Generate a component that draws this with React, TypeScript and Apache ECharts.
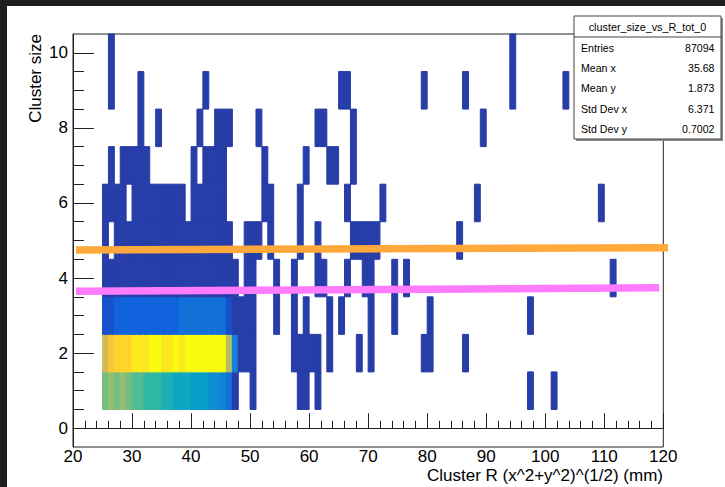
import React, { useEffect, useRef } from 'react';
import * as echarts from 'echarts';

// ---------- data ----------
// x bins are 1 mm wide (lower edges listed), y bins are centred on integer cluster sizes
const denseBins = [25, 26, 27, 28, 29, 30, 31, 32, 33, 34, 35, 36, 37, 38, 39, 40, 41, 42, 43, 44, 45, 46, 47];
const size1Counts = [1150, 1240, 1120, 1230, 1110, 1060, 1020, 980, 950, 920, 870, 840, 780, 750, 720, 680, 650, 620, 570, 540, 460, 330, 40];
const size2Counts = [1460, 1650, 1740, 1760, 1730, 1830, 1850, 1870, 1930, 1960, 1880, 1890, 1950, 1860, 1990, 1970, 1980, 2000, 1960, 1950, 1940, 1350, 470];
const size3Counts = [180, 190, 230, 240, 250, 250, 260, 260, 270, 270, 260, 270, 280, 310, 320, 320, 330, 320, 310, 310, 300, 170, 30];

// sparse (low-count) cells: bin lower edges per cluster size
const size1Extra = [50, 58, 59, 61, 97, 101];
const size2Extra = [48, 49, 50, 57, 58, 59, 60, 61, 63, 68, 70, 79, 80, 86];
const size3Extra = [48, 49, 50, 54, 57, 59, 63, 65, 70, 74, 80, 97];
const size4Bins = [25, 26, 27, 28, 29, 30, 31, 32, 33, 34, 35, 36, 37, 38, 39, 40, 41, 42, 43, 44, 45, 46, 47, 49, 50, 54, 57, 61, 62, 66, 69, 70, 74, 76, 111];
const size5Bins = [25, 27, 28, 29, 30, 31, 32, 33, 34, 35, 36, 37, 38, 39, 40, 41, 42, 43, 44, 45, 46, 49, 50, 51, 53, 58, 61, 67, 68, 69, 70, 71, 85];
const size6Bins = [25, 26, 27, 28, 30, 31, 32, 33, 34, 35, 36, 37, 38, 40, 41, 42, 43, 44, 45, 52, 53, 58, 66, 72, 88, 109];
const size7Bins = [26, 28, 29, 30, 31, 32, 40, 42, 43, 44, 45, 52, 59, 63, 64, 67];
const size8Bins = [31, 34, 41, 44, 45, 46, 51, 61, 62, 67, 89];
const size9Bins = [26, 31, 42, 65, 66, 79, 86, 94, 103];
const size10Bins = [26, 94];
const size4Count = 30;
const sparseCount = 3;

// overlaid lines (x, y)
const orangeLine = [[20.5, 4.75], [120.8, 4.81]];
const magentaLine = [[20.5, 3.65], [119.3, 3.74]];

// axes
const yMajorTicks = [0, 2, 4, 6, 8, 10];
const yMinorTicks = [0.5, 1, 1.5, 2, 2.5, 3, 3.5, 4, 4.5, 5, 5.5, 6, 6.5, 7, 7.5, 8, 8.5, 9, 9.5, 10];

// stats box
const statsTitle = 'cluster_size_vs_R_tot_0';
const statsLabels = ['Entries', 'Mean x', 'Mean y', 'Std Dev x', 'Std Dev y'];
const statsValues = ['87094', '35.68', '1.873', '6.371', '0.7002'];

// ROOT kBird palette stops
const birdStops = [
  [0.2082, 0.1664, 0.5293], [0.0592, 0.3599, 0.8684], [0.078, 0.5041, 0.8385],
  [0.0232, 0.6419, 0.7914], [0.1802, 0.7178, 0.6425], [0.5301, 0.7492, 0.4662],
  [0.8186, 0.7328, 0.3499], [0.9956, 0.7862, 0.1968], [0.9764, 0.9832, 0.0539],
];

function bird(f: number): string {
  const t = Math.max(0, Math.min(1, f)) * (birdStops.length - 1);
  const i = Math.min(birdStops.length - 2, Math.floor(t));
  const u = t - i;
  const c = birdStops[i].map((v, k) => Math.round((v + (birdStops[i + 1][k] - v) * u) * 255));
  return `rgb(${c[0]},${c[1]},${c[2]})`;
}

const FONT = '"Liberation Sans", Arial, Helvetica, sans-serif';

export default function App() {
  const ref = useRef<HTMLDivElement>(null);
  useEffect(() => {
    if (!ref.current) return;
    const chart = echarts.init(ref.current, undefined, { renderer: 'svg' });

    const cells: number[][] = [];
    denseBins.forEach((b, i) => {
      cells.push([b, 1, size1Counts[i]]);
      cells.push([b, 2, size2Counts[i]]);
      cells.push([b, 3, size3Counts[i]]);
    });
    size1Extra.forEach((b) => cells.push([b, 1, sparseCount]));
    size2Extra.forEach((b) => cells.push([b, 2, sparseCount]));
    size3Extra.forEach((b) => cells.push([b, 3, sparseCount]));
    size4Bins.forEach((b) => cells.push([b, 4, size4Count]));
    size5Bins.forEach((b) => cells.push([b, 5, sparseCount]));
    size6Bins.forEach((b) => cells.push([b, 6, sparseCount]));
    size7Bins.forEach((b) => cells.push([b, 7, sparseCount]));
    size8Bins.forEach((b) => cells.push([b, 8, sparseCount]));
    size9Bins.forEach((b) => cells.push([b, 9, sparseCount]));
    size10Bins.forEach((b) => cells.push([b, 10, sparseCount]));

    const zMax = Math.max(...cells.map((c) => c[2]));
    const nLevels = 20;
    const pieces = [];
    for (let k = 0; k < nLevels; k++) {
      const idx = Math.floor(((k + 0.99) * 255) / nLevels);
      const p: any = { gte: (k * zMax) / nLevels, color: bird(idx / 254) };
      if (k === nLevels - 1) p.lte = zMax;
      else p.lt = ((k + 1) * zMax) / nLevels;
      pieces.push(p);
    }

    const boxX = 574, boxY = 16, boxW = 147, boxH = 123;
    const statsGraphics: any[] = [
      { type: 'rect', shape: { x: boxX + 2, y: boxY + 2, width: boxW, height: boxH }, style: { fill: '#8a8a8a' }, z: 10 },
      { type: 'rect', shape: { x: boxX, y: boxY, width: boxW, height: boxH }, style: { fill: '#fff', stroke: '#444', lineWidth: 1 }, z: 11 },
      { type: 'line', shape: { x1: boxX, y1: 37, x2: boxX + boxW, y2: 37 }, style: { stroke: '#444', lineWidth: 1 }, z: 12 },
      { type: 'text', x: boxX + boxW / 2, y: 26.5, z: 12, style: { text: statsTitle, font: `10.8px ${FONT}`, fill: '#000', textAlign: 'center', textVerticalAlign: 'middle' } },
    ];
    statsLabels.forEach((lab, i) => {
      const yy = 48 + i * 20.2;
      statsGraphics.push({ type: 'text', x: 581, y: yy, z: 12, style: { text: lab, font: `10.6px ${FONT}`, fill: '#000', textAlign: 'left', textVerticalAlign: 'middle' } });
      statsGraphics.push({ type: 'text', x: 714.5, y: yy, z: 12, style: { text: statsValues[i], font: `10.6px ${FONT}`, fill: '#000', textAlign: 'right', textVerticalAlign: 'middle' } });
    });

    chart.setOption({
      animation: false,
      backgroundColor: '#fff',
      grid: { left: 73, top: 34, right: 61.7, bottom: 40, show: true, borderColor: '#222', borderWidth: 1, backgroundColor: 'transparent' },
      xAxis: {
        type: 'value', min: 20, max: 120, interval: 10,
        axisLine: { show: true, lineStyle: { color: '#222', width: 1 } },
        axisTick: { show: true, inside: true, length: 15, lineStyle: { color: '#222' } },
        minorTick: { show: true, splitNumber: 5, length: 7.5, lineStyle: { color: '#222' } },
        splitLine: { show: false },
        axisLabel: { fontSize: 17, color: '#000', fontFamily: FONT, margin: 1 },
      },
      yAxis: [
        {
          type: 'value', min: -0.5, max: 10.5, position: 'left',
          axisLine: { show: true, lineStyle: { color: '#222', width: 1 } },
          axisTick: { show: true, inside: true, length: 21, customValues: yMajorTicks, lineStyle: { color: '#222' } },
          axisLabel: { fontSize: 17, color: '#000', fontFamily: FONT, margin: 5, customValues: yMajorTicks },
          splitLine: { show: false },
        },
        {
          type: 'value', min: -0.5, max: 10.5, position: 'left', offset: 0,
          axisLine: { show: false },
          axisTick: { show: true, inside: true, length: 11, customValues: yMinorTicks, lineStyle: { color: '#222' } },
          axisLabel: { show: false },
          splitLine: { show: false },
        },
      ],
      visualMap: { type: 'piecewise', show: false, dimension: 2, seriesIndex: 0, pieces },
      series: [
        {
          type: 'custom',
          coordinateSystem: 'cartesian2d',
          xAxisIndex: 0, yAxisIndex: 0,
          data: cells,
          encode: { x: 0, y: 1 },
          renderItem: (params: any, api: any) => {
            const x = api.value(0) as number;
            const y = api.value(1) as number;
            const a = api.coord([x, y + 0.5]);
            const b = api.coord([x + 1, y - 0.5]);
            const col = api.visual('color');
            return {
              type: 'rect',
              shape: { x: a[0], y: a[1], width: b[0] - a[0], height: b[1] - a[1] },
              style: { fill: col, stroke: col, lineWidth: 1 },
            };
          },
          z: 2,
        },
        {
          type: 'line', data: orangeLine, xAxisIndex: 0, yAxisIndex: 0, symbol: 'none', clip: false, silent: true,
          lineStyle: { color: '#ffa83c', width: 7.5, cap: 'butt' }, z: 4,
        },
        {
          type: 'line', data: magentaLine, xAxisIndex: 0, yAxisIndex: 0, symbol: 'none', clip: false, silent: true,
          lineStyle: { color: '#fd7bfc', width: 7.5, cap: 'butt' }, z: 4,
        },
      ],
      graphic: [
        { type: 'rect', shape: { x: 0, y: 0, width: 7, height: 487 }, style: { fill: '#1e1e1e' }, z: 20 },
        { type: 'rect', shape: { x: 0, y: 0, width: 725, height: 6 }, style: { fill: '#1e1e1e' }, z: 20 },
        { type: 'text', x: 663, y: 475, style: { text: 'Cluster R (x^2+y^2)^(1/2) (mm)', font: `17px ${FONT}`, fill: '#000', textAlign: 'right', textVerticalAlign: 'middle' } },
        { type: 'text', x: 35, y: 34, rotation: Math.PI / 2, style: { text: 'Cluster size', font: `17px ${FONT}`, fill: '#000', textAlign: 'right', textVerticalAlign: 'middle' } },
        ...statsGraphics,
      ],
    });
    return () => chart.dispose();
  }, []);
  return <div ref={ref} style={{ position: 'fixed', left: 0, top: 0, width: 725, height: 487, background: '#fff' }} />;
}
